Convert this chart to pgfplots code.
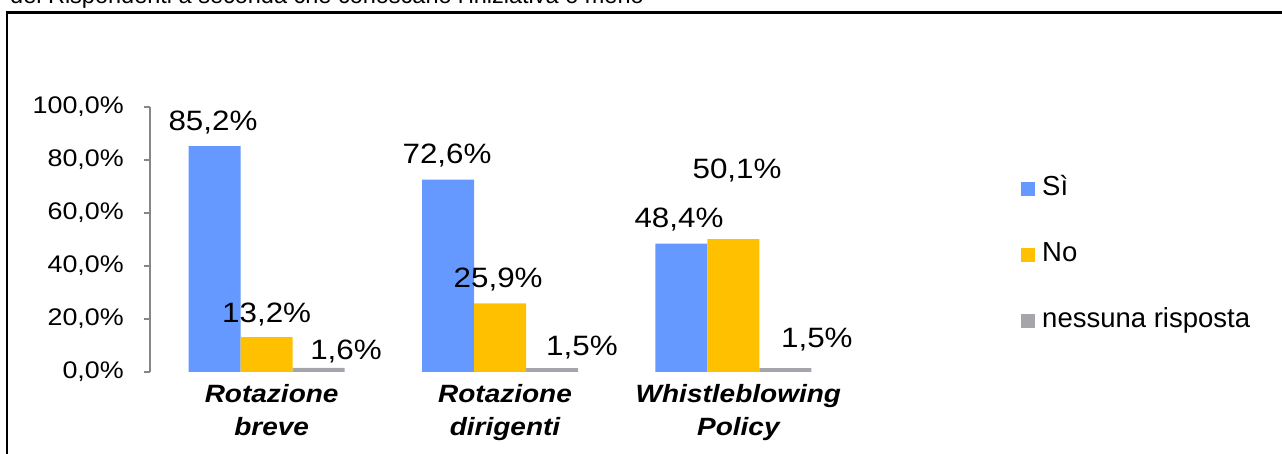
\documentclass[border=0pt]{standalone}
\usepackage{pgfplots}
\pgfplotsset{compat=1.18}
\usepackage{fontspec}
\setmainfont{Liberation Sans}
\newfontfamily\widefont{Liberation Sans}[FakeStretch=1.12]
\definecolor{siblue}{RGB}{102,153,255}
\definecolor{noyellow}{RGB}{255,192,0}
\definecolor{nrgray}{RGB}{165,165,172}
\definecolor{axgray}{RGB}{134,134,134}
\pgfplotstableread{
x si no nr
0 85.2 13.2 1.6
1 72.6 25.9 1.5
2 48.4 50.1 1.5
}\datatable
\begin{document}
\begin{tikzpicture}
\node[anchor=base west, inner sep=0pt, font=\fontsize{23.5}{27}\selectfont] at (10pt,450pt) {dei Rispondenti a seconda che conoscano l'iniziativa o meno};
\draw[line width=2.5pt] (7pt,-20pt) -- (7pt,441.5pt) -- (1300pt,441.5pt);
\begin{axis}[
  at={(150pt,82pt)}, anchor=south west,
  scale only axis, width=700pt, height=265pt,
  ybar=0pt, bar width=52pt,
  xmin=-0.5, xmax=2.5, ymin=0, ymax=100,
  xtick={0,1,2},
  xticklabels={Rotazione\\breve, Rotazione\\dirigenti, Whistleblowing\\Policy},
  xticklabel style={align=center, inner sep=0pt, yshift=-6pt, xshift=5pt, font=\widefont\fontsize{25}{33}\selectfont\bfseries\itshape},
  ytick={0,20,40,60,80,100},
  yticklabels={{0,0\%},{20,0\%},{40,0\%},{60,0\%},{80,0\%},{100,0\%}},
  yticklabel style={inner sep=0pt, xshift=-20pt, font=\widefont\fontsize{24}{28}\selectfont},
  axis x line*=bottom, axis y line*=left,
  x axis line style={draw=none},
  y axis line style={draw=axgray, line width=2pt, -},
  ytick style={draw=axgray, line width=2pt},
  xtick style={draw=none},
  tick align=outside, major tick length=6pt,
  clip=false,
  legend cell align=left,
  legend style={at={(1.2443,0.4415)}, anchor=west, draw=none, fill=none,
    inner sep=0pt, row sep=40pt,
    font=\fontsize{27.5}{33}\selectfont,
    /tikz/every odd column/.append style={column sep=7pt},
    nodes={inner sep=0pt, text height=20pt, text depth=6pt}},
  sqleg/.style={legend image code/.code={\fill[##1] (0pt,-7pt) rectangle (14pt,7pt);}},
]
\addplot[fill=siblue, draw=none, sqleg] table[x=x, y=si] {\datatable};
\addplot[fill=noyellow, draw=none, sqleg] table[x=x, y=no] {\datatable};
\addplot[fill=nrgray, draw=none, sqleg] table[x=x, y=nr] {\datatable};
\legend{Sì, No, nessuna risposta}
\begin{scope}[every node/.style={anchor=base, inner sep=0pt, font=\widefont\fontsize{28}{34}\selectfont}]
\node at (axis cs:-0.23,91.06) {85,2\%};
\node at (axis cs:0.0,18.6) {13,2\%};
\node at (axis cs:0.34,4.64) {1,6\%};
\node at (axis cs:0.773,78.6) {72,6\%};
\node at (axis cs:0.992,31.8) {25,9\%};
\node at (axis cs:1.351,6.4) {1,5\%};
\node at (axis cs:1.767,54.45) {48,4\%};
\node at (axis cs:2.016,72.9) {50,1\%};
\node at (axis cs:2.358,9.17) {1,5\%};
\end{scope}
\end{axis}
\pgfresetboundingbox
\path[use as bounding box] (0pt,0pt) rectangle (1282pt,454pt);
\end{tikzpicture}
\end{document}
